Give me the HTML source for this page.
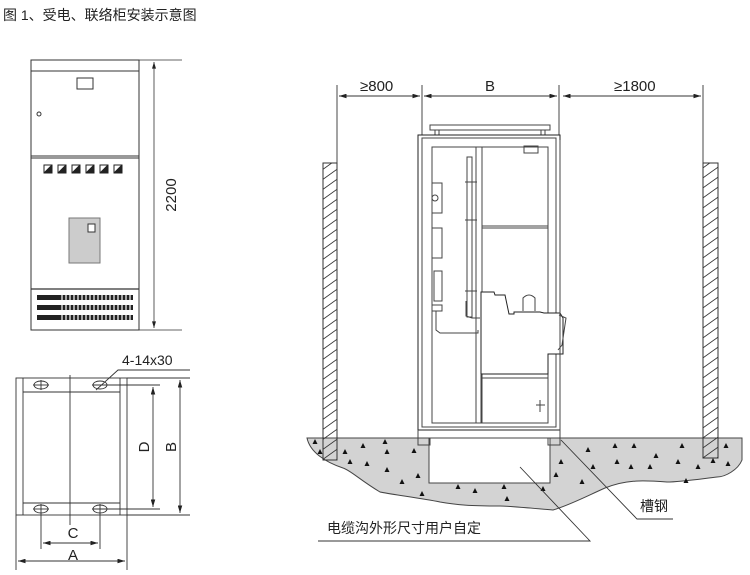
<!DOCTYPE html>
<html><head><meta charset="utf-8"><style>
html,body{margin:0;padding:0;background:#fff;}
svg{display:block;}
text{font-family:"Liberation Sans","Noto Sans CJK SC",sans-serif;fill:#222;}
</style></head><body>
<svg width="750" height="575" viewBox="0 0 750 575" xmlns="http://www.w3.org/2000/svg">
<defs>
<marker id="ar" viewBox="0 0 10 6" refX="10" refY="3" markerWidth="9" markerHeight="5" orient="auto-start-reverse"><path d="M0,0L10,3L0,6z" fill="#222"/></marker>
<pattern id="hatch" width="14" height="10" patternUnits="userSpaceOnUse"><path d="M0,10L14,0M-7,5L7,-5M7,15L21,5" stroke="#333" stroke-width="0.9"/></pattern>
<g id="tri"><path d="M0,-3L2.5,2L-2.5,2z" fill="#111"/></g>
</defs>
<text x="3" y="20" font-size="14">图 1、受电、联络柜安装示意图</text>

<!-- left front cabinet -->
<g stroke="#333" fill="none" stroke-width="1">
<rect x="31" y="60" width="108" height="270"/>
<line x1="31" y1="71" x2="139" y2="71"/>
<line x1="31" y1="156" x2="139" y2="156"/><line x1="31" y1="158" x2="139" y2="158"/>
<line x1="31" y1="289" x2="139" y2="289" stroke-width="1.3"/>
<rect x="77" y="78" width="16" height="11"/>
<circle cx="39" cy="114" r="2"/>
<rect x="69" y="218" width="31" height="45" fill="#ccc" stroke="#777"/>
<rect x="88" y="224" width="7" height="8" fill="#fff"/>
<line x1="139" y1="60" x2="182" y2="60" stroke-width="0.8"/>
<line x1="139" y1="330" x2="182" y2="330" stroke-width="0.8"/>
<line x1="154" y1="62" x2="154" y2="328" stroke-width="0.8" marker-start="url(#ar)" marker-end="url(#ar)"/>
</g>
<g stroke="#222" stroke-width="1">
<rect x="44" y="165" width="8" height="8" fill="#fff"/><path d="M45,172L51,166L51,172z" fill="#222"/>
<rect x="58" y="165" width="8" height="8" fill="#fff"/><path d="M59,172L65,166L65,172z" fill="#222"/>
<rect x="72" y="165" width="8" height="8" fill="#fff"/><path d="M73,172L79,166L79,172z" fill="#222"/>
<rect x="86" y="165" width="8" height="8" fill="#fff"/><path d="M87,172L93,166L93,172z" fill="#222"/>
<rect x="100" y="165" width="8" height="8" fill="#fff"/><path d="M101,172L107,166L107,172z" fill="#222"/>
<rect x="114" y="165" width="8" height="8" fill="#fff"/><path d="M115,172L121,166L121,172z" fill="#222"/>
</g>
<g fill="#222">
<rect x="37" y="295" width="96" height="5"/><rect x="37" y="305" width="96" height="5"/><rect x="37" y="315" width="96" height="5"/>
</g>
<g stroke="#fff" stroke-width="1.2">
<path d="M62,294v27M66,294v27M70,294v27M74,294v27M78,294v27M82,294v27M86,294v27M90,294v27M94,294v27M98,294v27M102,294v27M106,294v27M110,294v27M114,294v27M118,294v27M122,294v27M126,294v27M130,294v27"/>
</g>
<text transform="translate(176,195) rotate(-90)" font-size="15" text-anchor="middle">2200</text>

<!-- plan view -->
<g stroke="#333" fill="none" stroke-width="0.9">
<rect x="16" y="378" width="111" height="137"/>
<line x1="23" y1="378" x2="23" y2="515"/><line x1="120" y1="378" x2="120" y2="515"/>
<line x1="23" y1="392" x2="120" y2="392"/><line x1="23" y1="503" x2="120" y2="503"/>
<line x1="70" y1="375" x2="70" y2="525"/>
<ellipse cx="41" cy="385" rx="7" ry="4"/><ellipse cx="100" cy="385" rx="7" ry="4"/>
<ellipse cx="41" cy="509" rx="7" ry="4"/><ellipse cx="100" cy="509" rx="7" ry="4"/>
<line x1="33" y1="385" x2="49" y2="385"/><line x1="92" y1="385" x2="160" y2="385"/>
<line x1="33" y1="509" x2="49" y2="509"/><line x1="92" y1="509" x2="160" y2="509"/>
<line x1="41" y1="380" x2="41" y2="390"/><line x1="41" y1="504" x2="41" y2="549"/><line x1="100" y1="504" x2="100" y2="549"/>
<line x1="16" y1="515" x2="16" y2="570"/><line x1="127" y1="515" x2="127" y2="570"/>
<line x1="127" y1="378" x2="190" y2="378"/><line x1="127" y1="515" x2="190" y2="515"/>
<line x1="153" y1="387" x2="153" y2="507" marker-start="url(#ar)" marker-end="url(#ar)"/>
<line x1="180" y1="380" x2="180" y2="513" marker-start="url(#ar)" marker-end="url(#ar)"/>
<line x1="43" y1="543" x2="98" y2="543" marker-start="url(#ar)" marker-end="url(#ar)"/>
<line x1="18" y1="561" x2="125" y2="561" marker-start="url(#ar)" marker-end="url(#ar)"/>
<path d="M96,390L118,370H190"/>
</g>
<text x="122" y="365" font-size="14">4-14x30</text>
<text x="73" y="538" font-size="15" text-anchor="middle">C</text>
<text x="73" y="560" font-size="15" text-anchor="middle">A</text>
<text transform="translate(149,447) rotate(-90)" font-size="15" text-anchor="middle">D</text>
<text transform="translate(176,447) rotate(-90)" font-size="15" text-anchor="middle">B</text>

<!-- ground -->
<path d="M307,438H742V460C738,470 725,477 717,477C700,479 680,482 667,482C640,480 625,480 605,488C587,496 570,505 553,510C530,508 510,506 500,506C470,506 457,505 440,502C420,498 395,495 380,492C360,480 350,470 343,468C325,462 310,452 307,438z" fill="#d3d3d3" stroke="#444" stroke-width="1"/>
<rect x="429" y="438" width="121" height="45" fill="#fff" stroke="#444" stroke-width="1"/>
<g fill="#111">
<use href="#tri" x="315" y="442"/><use href="#tri" x="320" y="452"/><use href="#tri" x="345" y="452"/><use href="#tri" x="350" y="462"/><use href="#tri" x="363" y="446"/><use href="#tri" x="385" y="442"/><use href="#tri" x="387" y="452"/><use href="#tri" x="367" y="464"/><use href="#tri" x="387" y="470"/><use href="#tri" x="414" y="451"/><use href="#tri" x="418" y="476"/><use href="#tri" x="402" y="482"/><use href="#tri" x="422" y="494"/><use href="#tri" x="458" y="487"/><use href="#tri" x="475" y="491"/><use href="#tri" x="504" y="487"/><use href="#tri" x="507" y="499"/><use href="#tri" x="543" y="489"/><use href="#tri" x="556" y="475"/><use href="#tri" x="561" y="462"/><use href="#tri" x="582" y="482"/><use href="#tri" x="588" y="450"/><use href="#tri" x="593" y="467"/><use href="#tri" x="615" y="446"/><use href="#tri" x="617" y="462"/><use href="#tri" x="634" y="446"/><use href="#tri" x="631" y="467"/><use href="#tri" x="656" y="456"/><use href="#tri" x="650" y="467"/><use href="#tri" x="678" y="462"/><use href="#tri" x="682" y="446"/><use href="#tri" x="698" y="467"/><use href="#tri" x="686" y="481"/><use href="#tri" x="726" y="446"/><use href="#tri" x="728" y="464"/><use href="#tri" x="713" y="461"/>
</g>
<!-- walls -->
<rect x="323" y="163" width="14" height="297" fill="url(#hatch)" stroke="#333"/>
<rect x="703" y="163" width="15" height="295" fill="url(#hatch)" stroke="#333"/>
<g stroke="#333" stroke-width="0.9" fill="none">
<line x1="337" y1="85" x2="337" y2="163"/><line x1="703" y1="85" x2="703" y2="163"/>
<line x1="422" y1="85" x2="422" y2="135"/><line x1="559" y1="85" x2="559" y2="135"/>
<line x1="339" y1="96" x2="420" y2="96" marker-start="url(#ar)" marker-end="url(#ar)"/>
<line x1="424" y1="96" x2="557" y2="96" marker-start="url(#ar)" marker-end="url(#ar)"/>
<line x1="563" y1="96" x2="701" y2="96" marker-start="url(#ar)" marker-end="url(#ar)"/>
</g>
<text x="360" y="91" font-size="15">≥800</text>
<text x="490" y="91" font-size="15" text-anchor="middle">B</text>
<text x="614" y="91" font-size="15">≥1800</text>

<!-- side cabinet -->
<g stroke="#444" fill="none" stroke-width="1">
<rect x="430" y="125" width="120" height="5"/>
<rect x="435" y="130" width="4" height="5"/><rect x="541" y="130" width="4" height="5"/>
<rect x="418" y="135" width="142" height="295" fill="#fff" stroke="#222"/>
<rect x="422" y="138" width="134" height="289"/>
<rect x="432" y="147" width="116" height="276"/>
<rect x="476" y="147" width="6" height="276"/>
<line x1="482" y1="226" x2="548" y2="226"/><line x1="482" y1="228" x2="548" y2="228"/>
<path d="M481,292H494L495,295H505L509,314H514V312H540L544,313H560L563,318V354H548V374H481Z" fill="#fff" stroke="#222"/>
<line x1="481" y1="374" x2="481" y2="423"/>
<line x1="481" y1="378" x2="548" y2="378"/>
<rect x="524" y="146" width="14" height="7"/>
<rect x="467" y="157" width="5" height="160"/>
<path d="M465,182H477M465,220H477M465,291H477"/>
<rect x="432" y="183" width="10" height="30"/><rect x="432" y="228" width="10" height="30"/><rect x="434" y="271" width="8" height="30"/>
<circle cx="435" cy="198" r="3"/>
<path d="M432,305H442V311H432Z"/>
<path d="M436,311V330L440,333H478V330"/>
<path d="M466,301V316L472,318H480"/>
<path d="M523,311V298Q529,292 535,298V311"/>
<path d="M559,315L566,318L562,345L558,350"/>
<path d="M536,405H545M540,400V412"/>
<path d="M418,430V445H430V438M560,430V445H548V438"/>
<line x1="560" y1="140" x2="560" y2="430"/>
</g>
<!-- leaders -->
<g stroke="#333" stroke-width="0.9" fill="none">
<path d="M520,467L590,541H318"/>
<path d="M561,440L637,519H673"/>
</g>
<text x="327" y="533" font-size="14">电缆沟外形尺寸用户自定</text>
<text x="640" y="511" font-size="14">槽钢</text>
</svg>
</body></html>
